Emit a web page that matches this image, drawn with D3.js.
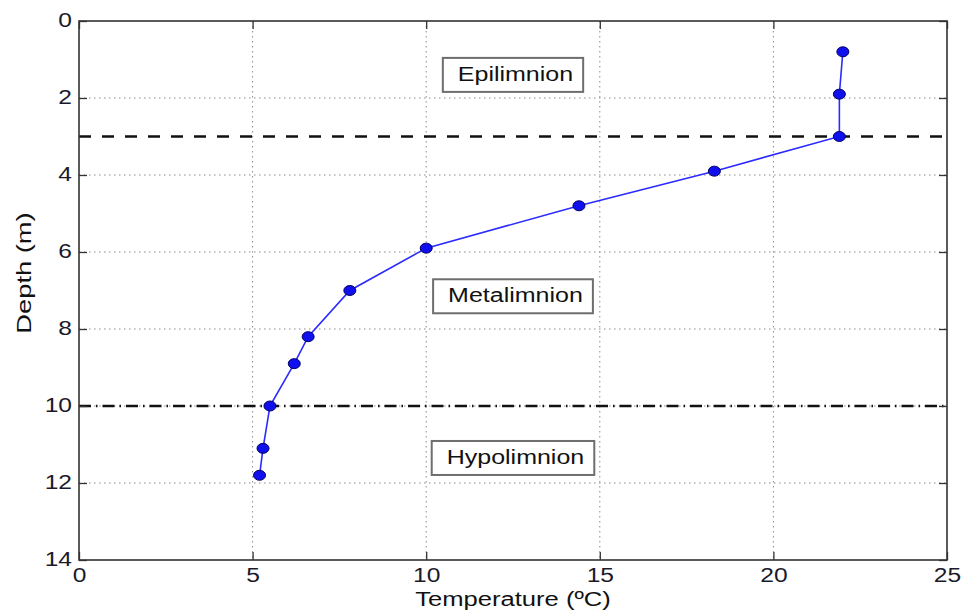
<!DOCTYPE html>
<html><head><meta charset="utf-8">
<script src="https://cdn.jsdelivr.net/npm/d3@7"></script>
<style>body{margin:0;background:#fff}svg{display:block}</style>
</head><body><svg id="c" width="963" height="612"></svg>
<script>
const temperature = [22.0, 21.9, 21.9, 18.3, 14.4, 10.0, 7.8, 6.6, 6.2, 5.5, 5.3, 5.2];
const depth = [0.8, 1.9, 3.0, 3.9, 4.8, 5.9, 7.0, 8.2, 8.9, 10.0, 11.1, 11.8];
const xTicks = [0, 5, 10, 15, 20, 25];
const yTicks = [0, 2, 4, 6, 8, 10, 12, 14];
const layerBounds = [3, 10];
const layerNames = ["Epilimnion", "Metalimnion", "Hypolimnion"];
const labelX = [12.5, 12.5, 12.5];
const labelY = [1.4, 7.15, 11.35];
const xLabel = "Temperature (ºC)";
const yLabel = "Depth (m)";

const svg = d3.select("#c");
const L = 79, R = 947, T = 21, B = 560;
const x = d3.scaleLinear().domain([0, 25]).range([L, R]);
const y = d3.scaleLinear().domain([0, 14]).range([T, B]);
const FONT = "'Liberation Sans', Arial, sans-serif";
const SX = 1.2;

// grid
const g = svg.append("g");
g.selectAll("line.gx").data(xTicks.slice(1, -1)).join("line")
  .attr("x1", d => x(d)).attr("x2", d => x(d)).attr("y1", T).attr("y2", B)
  .attr("stroke", "#8a8a8a").attr("stroke-width", 1).attr("stroke-dasharray", "1.5,3.5");
g.selectAll("line.gy").data(yTicks.slice(1, -1)).join("line")
  .attr("y1", d => y(d)).attr("y2", d => y(d)).attr("x1", L).attr("x2", R)
  .attr("stroke", "#8a8a8a").attr("stroke-width", 1).attr("stroke-dasharray", "1.5,3.5");

// layer boundaries
svg.append("line").attr("x1", L).attr("x2", R).attr("y1", y(layerBounds[0])).attr("y2", y(layerBounds[0]))
  .attr("stroke", "#111").attr("stroke-width", 2.5).attr("stroke-dasharray", "12,11");
svg.append("line").attr("x1", L).attr("x2", R).attr("y1", y(layerBounds[1])).attr("y2", y(layerBounds[1]))
  .attr("stroke", "#111").attr("stroke-width", 2.5).attr("stroke-dasharray", "12,5,1.5,5");

// axes
function styleAxis(sel) {
  sel.select(".domain").remove();
  sel.selectAll(".tick line").attr("stroke", "#333").attr("stroke-width", 1.3);
}
const ax = svg.append("g").attr("transform", `translate(0,${B})`)
  .call(d3.axisBottom(x).tickValues(xTicks).tickSizeInner(-8).tickSizeOuter(0).tickFormat(d3.format("d")));
styleAxis(ax);
ax.selectAll(".tick text").attr("y", null).attr("dy", null)
  .attr("transform", `translate(0,22) scale(${SX},1)`)
  .attr("font-family", FONT).attr("font-size", 20.5).attr("fill", "#1a1a2a");
const axT = svg.append("g").attr("transform", `translate(0,${T})`)
  .call(d3.axisTop(x).tickValues(xTicks).tickSizeInner(-8).tickSizeOuter(0).tickFormat(""));
styleAxis(axT);
const ay = svg.append("g").attr("transform", `translate(${L},0)`)
  .call(d3.axisLeft(y).tickValues(yTicks).tickSizeInner(-8).tickSizeOuter(0).tickFormat(d3.format("d")));
styleAxis(ay);
ay.selectAll(".tick text").attr("x", null).attr("dy", null)
  .attr("text-anchor", "end")
  .attr("transform", `translate(-7,5) scale(${SX},1)`)
  .attr("font-family", FONT).attr("font-size", 20.5).attr("fill", "#1a1a2a");
const ayR = svg.append("g").attr("transform", `translate(${R},0)`)
  .call(d3.axisRight(y).tickValues(yTicks).tickSizeInner(-8).tickSizeOuter(0).tickFormat(""));
styleAxis(ayR);

// frame
svg.append("rect").attr("x", L).attr("y", T).attr("width", R - L).attr("height", B - T)
  .attr("fill", "none").attr("stroke", "#333").attr("stroke-width", 1.6);

// profile line
const line = d3.line().x((d, i) => x(temperature[i])).y(d => y(d));
svg.append("path").datum(depth).attr("d", line)
  .attr("fill", "none").attr("stroke", "#2b2bff").attr("stroke-width", 1.6);
svg.selectAll("ellipse.m").data(depth).join("ellipse")
  .attr("cx", (d, i) => x(temperature[i])).attr("cy", d => y(d))
  .attr("rx", 6).attr("ry", 5)
  .attr("fill", "#1010ee").attr("stroke", "#000066").attr("stroke-width", 1);

// layer labels
layerNames.forEach((name, i) => {
  const grp = svg.append("g");
  const t = grp.append("text").text(name)
    .attr("font-family", FONT).attr("font-size", 20).attr("fill", "#111");
  const w = t.node().getComputedTextLength() * 1.25;
  const bw = w + 25, bh = 34;
  const cx = x(labelX[i]), cy = y(labelY[i]);
  const bx = cx - bw / 2, by = cy - bh / 2;
  grp.insert("rect", "text").attr("x", bx).attr("y", by).attr("width", bw).attr("height", bh)
    .attr("fill", "#fff").attr("stroke", "#6e6e6e").attr("stroke-width", 2);
  t.attr("transform", `translate(${bx + 15},${by + 23}) scale(1.25,1)`);
});

// axis titles
svg.append("text").text(xLabel).attr("text-anchor", "middle")
  .attr("transform", `translate(${(L + R) / 2},606) scale(1.22,1)`)
  .attr("font-family", FONT).attr("font-size", 21).attr("fill", "#111");
svg.append("text").text(yLabel).attr("text-anchor", "middle")
  .attr("transform", `translate(31,273) rotate(-90) scale(1.3,1)`)
  .attr("font-family", FONT).attr("font-size", 21).attr("fill", "#111");
</script></body></html>
